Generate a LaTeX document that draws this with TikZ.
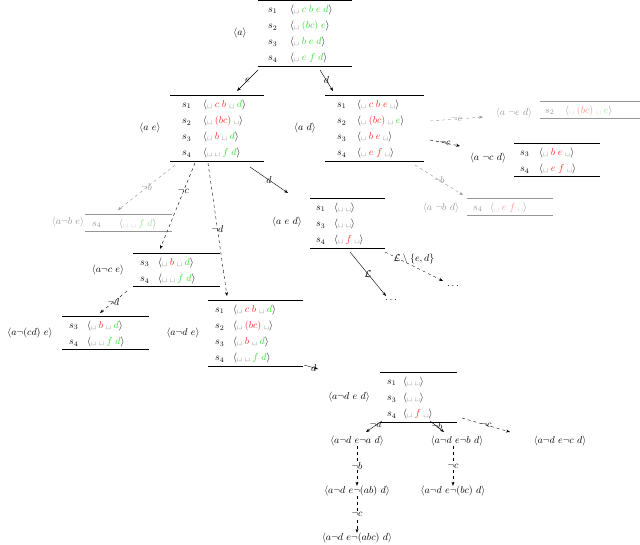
\documentclass[tikz,border=0pt]{standalone}
\usetikzlibrary{arrows.meta}
\definecolor{gcol}{RGB}{50,225,50}
\definecolor{rcol}{RGB}{255,40,40}
\definecolor{lgcol}{RGB}{150,235,150}
\definecolor{lrcol}{RGB}{255,150,150}
\definecolor{gtxt}{RGB}{150,150,150}
\newcommand\gr[1]{{\color{gcol}#1}}
\newcommand\rd[1]{{\color{rcol}#1}}
\newcommand\lgr[1]{{\color{lgcol}#1}}
\newcommand\lrd[1]{{\color{lrcol}#1}}
\newcommand\vs{\mbox{\textvisiblespace}}
\newcommand\sq[1]{$\langle\vs\;#1\rangle$}
\newcommand\tabl[4]{\renewcommand\arraystretch{1.35}\setlength\arrayrulewidth{0.8pt}\begin{tabular}{@{\hspace{#1pt}}p{12pt}@{\hspace{#2pt}}p{#3pt}@{}}\hline #4 \\\hline\end{tabular}}
\begin{document}
\begin{tikzpicture}[x=1pt,y=-1pt,
  tbl/.style={anchor=north west,inner sep=0pt},
  lab/.style={inner sep=0pt},
  gtx/.style={text=gtxt},
  sol/.style={-{Stealth[length=4pt,width=3pt]},thin},
  dsh/.style={-{Stealth[length=4pt,width=3pt]},thin,dashed},
  gdsh/.style={dsh,gtxt},
  elab/.style={midway,inner sep=0pt}]
\useasboundingbox (0,0) rectangle (640,545);
% A
\node[tbl] (A) at (258,0) {\tabl{10}{10}{62}{$s_1$ & \sq{\gr{c\;b\;e\;d}}\\ $s_2$ & \sq{\gr{(bc)\;e}}\\ $s_3$ & \sq{\gr{b\;e\;d}}\\ $s_4$ & \sq{\gr{e\;f\;d}}}};
\node[lab] (lA) at (240,33) {$\langle a\rangle$};
% AE
\node[tbl] (AE) at (170,95) {\tabl{12}{9}{61}{$s_1$ & \sq{\rd{c\;b}\;\vs\;\gr{d}}\\ $s_2$ & \sq{\rd{(bc)}\;\vs}\\ $s_3$ & \sq{\rd{b}\;\vs\;\gr{d}}\\ $s_4$ & \sq{\vs\;\gr{f\;d}}}};
\node[lab] (lAE) at (150,128) {$\langle a\ e\rangle$};
% AD
\node[tbl] (AD) at (325,95) {\tabl{12}{8}{67}{$s_1$ & \sq{\rd{c\;b\;e}\;\vs}\\ $s_2$ & \sq{\rd{(bc)}\;\vs\;\gr{e}}\\ $s_3$ & \sq{\rd{b\;e}\;\vs}\\ $s_4$ & \sq{\rd{e\;f}\;\vs}}};
\node[lab] (lAD) at (305,128) {$\langle a\ d\rangle$};
% A not e d (gray)
\node[tbl,gtx] (ANED) at (540,101) {\tabl{5}{8}{75}{$s_2$ & \sq{\lrd{(bc)}\;\vs\;\lgr{e}}}};
\node[lab,gtx] (lANED) at (514,113) {$\langle a\ \neg e\ d\rangle$};
% A not c d
\node[tbl] (ANCD) at (514,143) {\tabl{6}{7}{61}{$s_3$ & \sq{\rd{b\;e}\;\vs}\\ $s_4$ & \sq{\rd{e\;f}\;\vs}}};
\node[lab] (lANCD) at (488,158) {$\langle a\ \neg c\ d\rangle$};
% A not b d (gray)
\node[tbl,gtx] (ANBD) at (467,198) {\tabl{6}{5}{63}{$s_4$ & \sq{\lrd{e\;f}\;\vs}}};
\node[lab,gtx] (lANBD) at (441,208) {$\langle a\ \neg b\ d\rangle$};
% A not b e (gray)
\node[tbl,gtx] (ANBE) at (85,214) {\tabl{7}{15}{53}{$s_4$ & \sq{\vs\;\lgr{f\;d}}}};
\node[lab,gtx] (lANBE) at (68,222) {$\langle a\neg b\ e\rangle$};
% A not c e
\node[tbl] (ANCE) at (133,253) {\tabl{7}{6}{62}{$s_3$ & \sq{\rd{b}\;\vs\;\gr{d}}\\ $s_4$ & \sq{\vs\;\gr{f\;d}}}};
\node[lab] (lANCE) at (108,270) {$\langle a\neg c\ e\rangle$};
% A not (cd) e
\node[tbl] (ANCDE) at (62,316) {\tabl{7}{6}{62}{$s_3$ & \sq{\rd{b}\;\vs\;\gr{d}}\\ $s_4$ & \sq{\vs\;\gr{f\;d}}}};
\node[lab] (lANCDE) at (30,333) {$\langle a\neg(cd)\ e\rangle$};
% A not d e
\node[tbl] (ANDE) at (208,300) {\tabl{7}{6}{70}{$s_1$ & \sq{\rd{c\;b}\;\vs\;\gr{d}}\\ $s_2$ & \sq{\rd{(bc)}\;\vs}\\ $s_3$ & \sq{\rd{b}\;\vs\;\gr{d}}\\ $s_4$ & \sq{\vs\;\gr{f\;d}}}};
\node[lab] (lANDE) at (183,333) {$\langle a\neg d\ e\rangle$};
% A e d
\node[tbl] (AED) at (310,198) {\tabl{6}{6}{51}{$s_1$ & \sq{\vs}\\ $s_3$ & \sq{\vs}\\ $s_4$ & \sq{\rd{f}\;\vs}}};
\node[lab] (lAED) at (287,222) {$\langle a\ e\ d\rangle$};
\node[lab] (dots1) at (391,300) {$\ldots$};
\node[lab] (dots2) at (453,286) {$\ldots$};
% A not d e d
\node[tbl] (ANDED) at (380,372) {\tabl{7}{4}{54}{$s_1$ & \sq{\vs}\\ $s_3$ & \sq{\vs}\\ $s_4$ & \sq{\rd{f}\;\vs}}};
\node[lab] (lANDED) at (349,397) {$\langle a\neg d\ e\ d\rangle$};
\node[lab] (n1) at (357,441) {$\langle a\neg d\ e\neg a\ d\rangle$};
\node[lab] (n2) at (457,441) {$\langle a\neg d\ e\neg b\ d\rangle$};
\node[lab] (n3) at (560,441) {$\langle a\neg d\ e\neg c\ d\rangle$};
\node[lab] (n4) at (357,491) {$\langle a\neg d\ e\neg(ab)\ d\rangle$};
\node[lab] (n5) at (453,491) {$\langle a\neg d\ e\neg(bc)\ d\rangle$};
\node[lab] (n6) at (357,538) {$\langle a\neg d\ e\neg(abc)\ d\rangle$};
% connector end points
\coordinate (c1) at (258,70); \coordinate (c2) at (237,91);
\coordinate (c3) at (320,70); \coordinate (c4) at (333,91);
\coordinate (c5) at (430,121); \coordinate (c6) at (483,117);
\coordinate (c7) at (430,140); \coordinate (c8) at (460,146);
\coordinate (c9) at (415,165); \coordinate (c10) at (463,195);
\coordinate (c11) at (175,165); \coordinate (c12) at (118,210);
\coordinate (c13) at (195,163); \coordinate (c14) at (160,249);
\coordinate (c15) at (208,163); \coordinate (c16) at (227,296);
\coordinate (c17) at (127,291); \coordinate (c18) at (100,313);
\coordinate (c19) at (250,167); \coordinate (c20) at (288,193);
\coordinate (c21) at (350,252); \coordinate (c22) at (386,296);
\coordinate (c23) at (385,252); \coordinate (c24) at (443,281);
\coordinate (c25) at (304,365); \coordinate (c26) at (318,369);
\coordinate (c27) at (382,421); \coordinate (c28) at (366,432);
\coordinate (c29) at (430,421); \coordinate (c30) at (444,432);
\coordinate (c31) at (462,418); \coordinate (c32) at (510,432);
\draw[sol] (c1) -- node[elab] {$e$} (c2);
\draw[sol] (c3) -- node[elab] {$d$} (c4);
\draw[gdsh] (c5) -- node[elab] {$\neg e$} (c6);
\draw[dsh] (c7) -- node[elab] {$\neg c$} (c8);
\draw[gdsh] (c9) -- node[elab] {$\neg b$} (c10);
\draw[gdsh] (c11) -- node[elab] {$\neg b$} (c12);
\draw[dsh] (c13) -- node[elab,pos=0.33] {$\neg c$} (c14);
\draw[dsh] (c15) -- node[elab,pos=0.5] {$\neg d$} (c16);
\draw[dsh] (c17) -- node[elab] {$\neg d$} (c18);
\draw[sol] (c19) -- node[elab] {$d$} (c20);
\draw[sol] (c21) -- node[elab] {$\mathcal{L}$} (c22);
\draw[dsh] (c23) -- node[elab,above=2pt] {$\mathcal{L}\setminus\{e,d\}$} (c24);
\draw[sol] (c25) -- node[elab,pos=0.7] {$d$} (c26);
\draw[sol] (c27) -- node[elab,pos=0.4] {$\neg a$} (c28);
\draw[sol] (c29) -- node[elab,pos=0.5] {$\neg b$} (c30);
\draw[dsh] (c31) -- node[elab] {$\neg c$} (c32);
\draw[dsh] (n1) -- node[elab,fill=white,inner sep=1pt] {$\neg b$} (n4);
\draw[dsh] (n2.south -| n5) -- node[elab,fill=white,inner sep=1pt] {$\neg c$} (n5);
\draw[dsh] (n4) -- node[elab,fill=white,inner sep=1pt] {$\neg c$} (n6);
\end{tikzpicture}
\end{document}
